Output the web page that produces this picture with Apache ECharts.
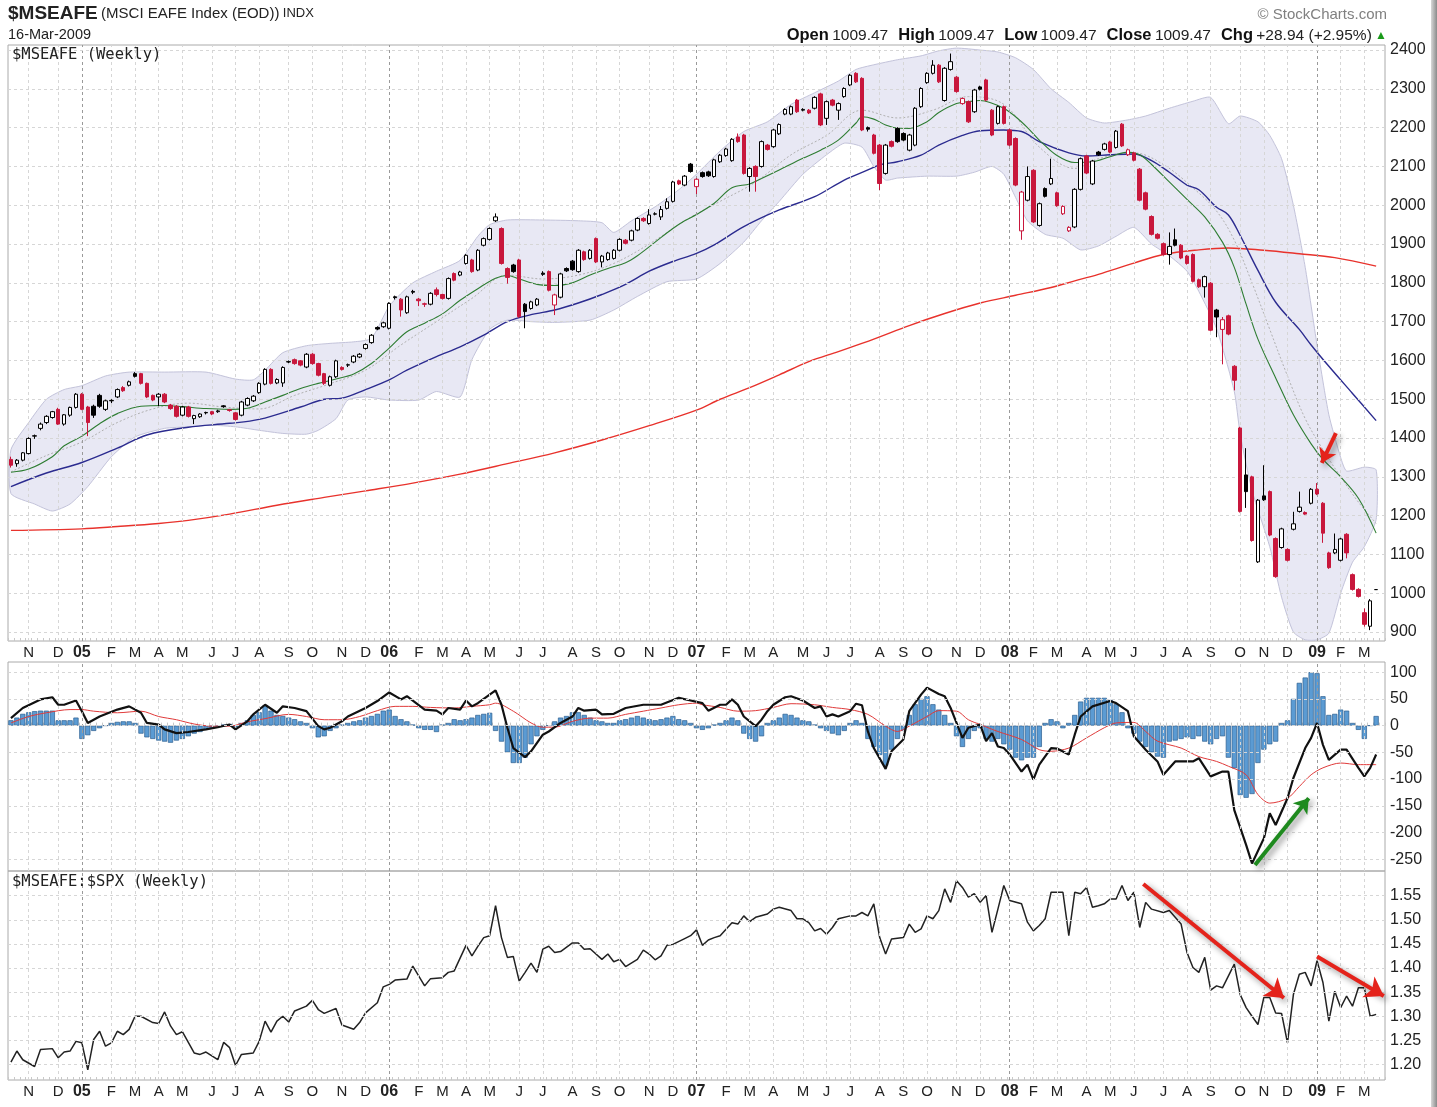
<!DOCTYPE html>
<html>
<head>
<meta charset="utf-8">
<title>$MSEAFE weekly</title>
<script src="https://cdn.jsdelivr.net/npm/echarts@6/dist/echarts.min.js"></script>
<style>
html, body { margin: 0; padding: 0; background: #fff; }
#chart { width: 1437px; height: 1107px; }
</style>
</head>
<body>
<div id="chart"></div>
<script>
// weekly bars, Mondays from 11-Oct-2004 to 16-Mar-2009
var weekCount = 232;

var opens = [1345,1334,1343,1360,1405,1425,1440,1453,1474,1436,1459,1479,1513,1480,1482,1510,1474,1496,1506,1530,
1536,1566,1566,1541,1510,1506,1513,1485,1482,1459,1480,1450,1455,1466,1468,1468,1483,1473,1465,1459,
1485,1496,1517,1539,1577,1542,1542,1596,1602,1599,1583,1616,1592,1566,1536,1558,1582,1588,1596,1609,
1631,1646,1685,1687,1683,1764,1758,1723,1778,1758,1746,1745,1782,1770,1760,1824,1820,1850,1859,1833,
1897,1912,1960,1940,1837,1846,1859,1745,1734,1743,1825,1829,1743,1763,1837,1856,1829,1880,1863,1914,
1854,1860,1863,1884,1910,1910,1936,1966,1953,1977,1970,1992,2010,2063,2052,2106,2048,2084,2086,2074,
2112,2128,2115,2176,2181,2074,2100,2100,2155,2151,2184,2235,2235,2271,2245,2245,2250,2287,2224,2271,
2245,2280,2310,2340,2327,2200,2181,2155,2082,2164,2198,2185,2142,2155,2254,2316,2340,2361,2270,2350,
2330,2262,2267,2241,2305,2323,2245,2211,2254,2194,2172,1934,2013,2090,1948,2043,2055,2032,1978,1934,
1944,2041,2127,2055,2137,2144,2163,2149,2209,2130,2135,2093,2032,1971,1925,1901,1873,1911,1897,1869,
1873,1808,1790,1799,1730,1680,1715,1585,1426,1305,1300,1081,1251,1262,1141,1118,1113,1165,1211,1208,
1232,1268,1232,1104,1104,1085,1152,1048,1010,950,915,1009.47];

var highs = [1352,1346,1364,1402,1409,1440,1459,1470,1478,1462,1481,1516,1516,1483,1486,1514,1499,1500,1528,1534,
1548,1570,1568,1543,1512,1516,1516,1488,1485,1483,1483,1460,1464,1468,1470,1473,1485,1475,1467,1496,
1505,1511,1544,1580,1580,1554,1585,1600,1605,1601,1619,1619,1594,1568,1561,1602,1585,1592,1614,1619,
1644,1668,1688,1700,1750,1767,1761,1767,1782,1761,1749,1776,1788,1772,1814,1827,1831,1874,1862,1887,
1917,1943,1979,1943,1840,1849,1862,1748,1754,1761,1830,1832,1772,1826,1840,1859,1887,1883,1887,1917,
1872,1880,1887,1915,1913,1937,1969,1969,1990,1982,1998,2018,2063,2066,2078,2109,2070,2087,2089,2120,
2132,2148,2173,2185,2184,2098,2103,2167,2158,2197,2211,2250,2257,2274,2250,2248,2281,2290,2270,2274,
2265,2304,2338,2343,2330,2203,2184,2158,2158,2167,2201,2188,2184,2253,2304,2343,2374,2364,2356,2391,
2333,2278,2270,2300,2308,2326,2248,2257,2257,2197,2175,2037,2100,2093,2007,2046,2120,2035,2000,1946,
2044,2123,2130,2117,2140,2161,2166,2194,2212,2146,2138,2096,2035,1974,1928,1904,1930,1940,1900,1872,
1876,1811,1819,1802,1733,1712,1718,1588,1429,1374,1303,1243,1330,1265,1144,1169,1116,1210,1262,1211,
1271,1284,1235,1107,1154,1143,1155,1051,1013,961,985,1009.47];

var lows = [1324,1326,1340,1358,1398,1420,1436,1450,1434,1432,1455,1476,1472,1405,1452,1478,1470,1490,1503,1519,
1533,1556,1538,1503,1495,1482,1490,1473,1453,1456,1453,1436,1452,1461,1459,1465,1478,1468,1445,1456,
1482,1493,1514,1536,1538,1539,1532,1593,1589,1585,1580,1589,1559,1537,1533,1555,1574,1583,1593,1606,
1628,1643,1678,1684,1680,1757,1713,1720,1771,1740,1738,1742,1765,1757,1757,1804,1817,1847,1826,1830,
1894,1909,1957,1847,1798,1826,1710,1683,1731,1740,1818,1778,1717,1760,1828,1831,1826,1857,1860,1851,
1840,1857,1860,1881,1899,1907,1933,1957,1950,1974,1962,1989,2007,2052,2049,2084,2029,2071,2073,2071,
2109,2125,2112,2161,2079,2035,2035,2097,2141,2148,2181,2232,2232,2238,2242,2235,2247,2204,2207,2255,
2220,2277,2307,2315,2191,2190,2131,2039,2079,2149,2161,2165,2139,2152,2251,2313,2337,2315,2267,2347,
2290,2259,2212,2238,2296,2268,2178,2208,2208,2152,2049,1911,2010,1954,1945,2020,2052,1996,1975,1931,
1941,2038,2080,2052,2127,2141,2134,2146,2150,2127,2113,2010,1987,1922,1912,1870,1847,1894,1861,1847,
1801,1787,1762,1675,1660,1590,1665,1523,1208,1220,1133,1078,1238,1147,1040,1115,1082,1162,1208,1202,
1229,1253,1130,1063,1101,1082,1090,1007,989,914,905,1009.47];

var closes = [1330,1343,1362,1399,1406,1436,1456,1468,1436,1460,1479,1513,1474,1440,1459,1482,1496,1497,1525,1522,
1545,1559,1541,1506,1498,1513,1493,1476,1456,1480,1456,1458,1462,1465,1462,1470,1481,1471,1448,1493,
1502,1508,1541,1577,1541,1551,1582,1597,1592,1588,1616,1592,1562,1541,1558,1599,1577,1589,1611,1616,
1641,1665,1681,1697,1747,1762,1730,1764,1776,1754,1745,1773,1770,1760,1811,1807,1828,1871,1829,1884,
1914,1940,1970,1850,1814,1829,1713,1726,1751,1758,1822,1781,1769,1823,1831,1834,1884,1860,1884,1854,
1869,1877,1884,1912,1902,1934,1966,1960,1975,1978,1989,2009,2060,2055,2075,2087,2067,2074,2076,2117,
2129,2145,2170,2164,2082,2095,2074,2164,2144,2194,2208,2247,2254,2241,2247,2238,2278,2207,2267,2258,
2262,2301,2335,2318,2194,2196,2134,2056,2155,2152,2164,2168,2181,2250,2301,2340,2361,2318,2353,2370,
2293,2275,2215,2297,2299,2271,2181,2254,2211,2155,2052,2034,2074,1957,2004,2023,2069,1999,1997,1943,
2041,2120,2083,2114,2130,2158,2137,2191,2153,2143,2116,2013,1990,1925,1915,1873,1894,1897,1864,1850,
1804,1790,1816,1678,1712,1705,1668,1549,1211,1262,1136,1240,1241,1150,1043,1166,1085,1179,1222,1204,
1268,1256,1155,1066,1113,1140,1104,1010,992,920,980.53,1009.47];

// overlays as [week, value]
var greenMA = [[0,1312],[3,1320],[7,1352],[9,1380],[12,1405],[15,1437],[18,1463],[22,1482],[26,1484],[29,1481],[33,1476],[37,1474],[40,1477],[43,1493],[46,1510],[49,1528],[52,1541],[55,1552],[58,1565],[61,1592],[64,1632],[67,1674],[70,1696],[73,1720],[76,1755],[79,1785],[82,1812],[84,1819],[86,1810],[89,1796],[92,1793],[95,1800],[98,1820],[101,1837],[104,1852],[106,1870],[109,1905],[112,1940],[114,1960],[116,1976],[119,2005],[122,2045],[125,2055],[127,2069],[130,2091],[134,2121],[137,2142],[140,2168],[143,2212],[144,2228],[146,2222],[148,2207],[150,2199],[152,2198],[155,2215],[157,2239],[160,2262],[162,2267],[164,2270],[166,2263],[168,2250],[170,2228],[172,2200],[174,2168],[177,2128],[180,2110],[183,2112],[186,2125],[189,2137],[191,2130],[193,2105],[196,2060],[199,2015],[202,1970],[205,1905],[207,1840],[209,1745],[211,1655],[214,1555],[217,1460],[220,1385],[222,1345],[225,1300],[228,1245],[231,1155]];

var blueMA = [[0,1275],[6,1310],[12,1337],[18,1374],[23,1408],[30,1428],[37,1438],[42,1448],[49,1480],[53,1500],[56,1503],[60,1525],[64,1550],[67,1575],[72,1610],[76,1635],[80,1665],[84,1700],[88,1718],[92,1730],[96,1748],[100,1770],[104,1796],[108,1830],[112,1855],[116,1876],[119,1898],[124,1945],[130,1988],[136,2022],[141,2065],[145,2091],[147,2104],[150,2112],[154,2129],[157,2155],[161,2180],[164,2192],[168,2194],[171,2190],[174,2164],[179,2135],[182,2127],[186,2130],[190,2132],[193,2115],[196,2085],[199,2052],[201,2040],[204,1995],[206,1975],[208,1922],[211,1832],[214,1750],[218,1680],[220,1640],[223,1585],[227,1515],[231,1445]];

var redMA = [[0,1162],[12,1166],[18,1172],[25,1180],[30,1188],[37,1204],[45,1227],[53,1247],[60,1264],[68,1284],[76,1307],[84,1334],[92,1362],[100,1395],[108,1432],[116,1472],[120,1500],[125,1530],[130,1563],[135,1597],[140,1623],[146,1655],[152,1690],[158,1721],[164,1748],[170,1768],[176,1788],[180,1805],[184,1822],[190,1851],[195,1873],[201,1885],[206,1890],[212,1884],[218,1875],[224,1865],[231,1843]];

var bandUpper = [[0,1370],[3,1440],[6,1500],[9,1525],[12,1535],[16,1560],[20,1570],[26,1570],[33,1570],[38,1552],[41,1550],[43,1575],[46,1620],[50,1638],[54,1644],[58,1648],[61,1657],[64,1740],[68,1800],[72,1830],[76,1858],[79,1920],[81,1950],[84,1962],[90,1962],[96,1960],[100,1955],[102,1930],[105,1960],[109,1996],[113,2040],[116,2080],[120,2140],[124,2190],[128,2215],[132,2260],[136,2290],[140,2320],[143,2350],[146,2362],[150,2375],[154,2385],[157,2398],[160,2405],[164,2400],[167,2395],[170,2380],[173,2350],[176,2300],[179,2265],[182,2225],[185,2212],[189,2220],[192,2230],[196,2250],[200,2268],[203,2278],[206,2210],[208,2230],[211,2215],[213,2180],[215,2120],[217,2000],[219,1840],[221,1640],[223,1460],[225,1350],[226,1315],[229,1325],[231,1318]];

var bandLower = [[0,1257],[4,1230],[7,1212],[10,1230],[13,1275],[17,1352],[21,1403],[26,1425],[30,1429],[34,1433],[38,1429],[42,1420],[46,1412],[50,1410],[52,1420],[55,1450],[57,1498],[60,1506],[64,1498],[69,1498],[72,1520],[76,1506],[78,1602],[81,1680],[84,1704],[88,1700],[92,1698],[98,1704],[102,1730],[106,1765],[111,1803],[116,1810],[120,1850],[124,1905],[127,1960],[130,2010],[134,2080],[138,2130],[141,2160],[144,2150],[146,2100],[148,2065],[150,2070],[155,2075],[160,2075],[163,2085],[166,2100],[168,2080],[170,2020],[172,1960],[175,1925],[178,1915],[181,1885],[184,1895],[187,1920],[190,1943],[193,1900],[196,1870],[199,1830],[201,1778],[204,1682],[207,1520],[208,1410],[210,1265],[213,1120],[215,990],[217,900],[219,880],[221,880],[223,897],[225,1000],[227,1080],[229,1120],[231,1190]];

var bandMid = [[0,1313],[6,1355],[12,1390],[18,1440],[24,1475],[30,1490],[36,1480],[42,1475],[48,1510],[54,1540],[60,1575],[66,1640],[72,1700],[78,1760],[84,1820],[90,1810],[96,1820],[102,1850],[108,1900],[114,1960],[120,2010],[126,2060],[132,2130],[138,2180],[144,2245],[150,2225],[156,2245],[162,2280],[168,2260],[174,2150],[180,2095],[184,2120],[190,2135],[195,2105],[200,2045],[204,1985],[207,1910],[210,1800],[213,1680],[216,1560],[219,1450],[222,1370],[225,1300],[228,1235],[231,1180]];

var macdLine = [[0,14],[2,33],[5,49],[7,53],[8,39],[9,39],[11,47],[12,27],[13,5],[15,17],[18,30],[20,36],[22,24],[23,5],[25,2],[26,-7],[28,-14],[30,-12],[33,-7],[35,-3],[37,2],[38,-7],[40,8],[41,21],[43,39],[45,24],[46,36],[48,33],[50,27],[52,-1],[53,-7],[54,-4],[56,8],[57,17],[60,33],[62,46],[64,62],[66,49],[67,55],[70,30],[72,28],[73,21],[74,33],[76,30],[77,47],[78,36],[79,42],[81,58],[82,66],[83,39],[84,-4],[85,-42],[87,-59],[88,-48],[90,-17],[91,-11],[93,5],[95,17],[96,33],[97,28],[99,30],[100,21],[102,22],[104,33],[107,39],[110,39],[113,52],[115,47],[117,42],[118,28],[120,39],[121,39],[122,49],[123,39],[124,17],[126,-1],[127,11],[128,27],[129,39],[131,53],[132,55],[134,47],[136,33],[137,36],[138,17],[139,21],[140,17],[142,27],[143,41],[144,38],[145,-11],[146,-42],[148,-81],[149,-48],[151,-26],[152,27],[154,58],[155,71],[157,59],[158,55],[159,33],[161,-23],[162,-4],[164,2],[165,-29],[166,-14],[167,-39],[168,-42],[169,-54],[171,-86],[172,-73],[173,-101],[174,-73],[176,-42],[177,-43],[179,-54],[180,-17],[181,17],[183,36],[186,46],[187,42],[189,27],[190,-20],[192,-45],[194,-67],[195,-92],[197,-67],[198,-67],[200,-67],[201,-61],[203,-95],[205,-86],[206,-86],[207,-158],[209,-223],[210,-258],[212,-211],[213,-164],[214,-186],[216,-136],[217,-98],[219,-42],[220,-23],[221,5],[222,-36],[223,-64],[225,-45],[226,-45],[228,-79],[229,-95],[230,-79],[231,-54]];

var macdSignal = [[0,5],[3,17],[6,24],[10,30],[12,30],[14,27],[18,24],[22,27],[25,17],[28,11],[31,3],[34,-1],[37,-1],[40,7],[43,13],[47,21],[50,17],[53,11],[56,11],[59,17],[62,28],[65,36],[68,36],[71,34],[75,33],[78,36],[81,39],[82,42],[85,27],[88,5],[90,-3],[92,-3],[95,8],[98,14],[101,14],[104,21],[107,27],[110,33],[113,39],[116,42],[117,39],[120,34],[123,27],[126,28],[129,34],[132,41],[136,39],[139,34],[142,30],[145,21],[148,-1],[150,-11],[152,-1],[155,17],[157,28],[160,27],[162,11],[164,2],[167,-11],[171,-26],[174,-45],[176,-48],[179,-42],[182,-23],[185,-4],[187,5],[190,6],[192,-11],[194,-29],[198,-42],[201,-58],[204,-67],[206,-76],[209,-92],[211,-129],[213,-145],[216,-136],[218,-114],[220,-92],[222,-79],[225,-70],[228,-73],[231,-73]];

var macdHist = [10,15,22,25,27,28,28,28,10,10,10,15,-25,-18,-10,-5,0,5,7,8,
8,5,-15,-22,-25,-28,-30,-32,-28,-25,-20,-15,-12,-8,-5,-2,2,3,-3,5,
10,20,25,38,28,20,18,15,12,8,5,-5,-22,-20,-10,-5,2,5,8,10,
15,18,22,28,30,18,12,8,2,-5,-8,-8,-12,2,5,12,10,12,15,20,
22,24,-10,-30,-50,-70,-70,-60,-35,-20,-8,0,8,15,18,25,25,20,15,10,
8,5,5,10,12,15,18,15,12,10,12,15,18,12,10,5,-5,-8,-5,2,
5,10,15,10,-15,-25,-30,-20,5,10,15,22,20,15,10,8,2,-5,-10,-15,
-18,-10,5,10,5,-25,-40,-55,-75,-45,-25,-10,20,40,50,55,40,30,20,5,
-20,-40,-25,-10,-5,-25,-30,-25,-35,-45,-60,-65,-60,-60,-40,5,12,8,-5,5,
20,45,52,52,52,52,48,40,25,-5,-15,-30,-40,-50,-58,-60,-30,-28,-25,-22,
-25,-20,-30,-35,-25,-20,-60,-80,-130,-135,-128,-70,-45,-35,-30,5,10,50,80,90,
100,98,55,20,22,30,28,5,-8,-25,0,18];

var ratioLine = [[0,1.205],[1,1.228],[2,1.210],[4,1.196],[5,1.231],[7,1.233],[8,1.214],[9,1.226],[10,1.228],[11,1.248],[12,1.245],[13,1.189],[14,1.252],[15,1.269],[16,1.238],[17,1.245],[18,1.269],[19,1.262],[20,1.273],[21,1.300],[22,1.300],[24,1.287],[25,1.285],[26,1.309],[27,1.280],[28,1.262],[29,1.268],[31,1.224],[32,1.221],[33,1.226],[35,1.210],[36,1.246],[37,1.235],[38,1.198],[39,1.221],[41,1.224],[42,1.248],[43,1.290],[44,1.267],[45,1.290],[46,1.300],[47,1.288],[48,1.311],[50,1.321],[51,1.333],[52,1.314],[53,1.306],[55,1.316],[56,1.282],[58,1.273],[59,1.287],[60,1.307],[62,1.328],[63,1.361],[64,1.366],[65,1.375],[67,1.377],[68,1.404],[70,1.363],[71,1.378],[73,1.380],[74,1.391],[75,1.394],[77,1.447],[78,1.425],[79,1.445],[80,1.463],[81,1.467],[82,1.529],[83,1.463],[84,1.422],[85,1.424],[86,1.373],[87,1.391],[88,1.410],[89,1.391],[90,1.439],[91,1.445],[92,1.432],[93,1.434],[95,1.452],[96,1.452],[97,1.439],[98,1.440],[100,1.418],[101,1.429],[102,1.413],[103,1.418],[104,1.403],[106,1.418],[107,1.437],[108,1.429],[109,1.417],[110,1.425],[111,1.447],[112,1.449],[114,1.461],[115,1.467],[116,1.479],[117,1.447],[118,1.458],[119,1.463],[120,1.467],[122,1.494],[123,1.491],[124,1.508],[125,1.496],[126,1.505],[128,1.512],[129,1.522],[130,1.526],[132,1.519],[133,1.502],[134,1.502],[135,1.494],[136,1.477],[137,1.482],[138,1.470],[139,1.484],[140,1.502],[142,1.508],[143,1.508],[144,1.515],[145,1.508],[146,1.533],[147,1.463],[148,1.429],[149,1.460],[151,1.463],[152,1.491],[153,1.474],[154,1.481],[155,1.508],[156,1.502],[157,1.519],[158,1.564],[159,1.536],[160,1.581],[161,1.567],[162,1.547],[163,1.554],[164,1.536],[165,1.550],[166,1.474],[167,1.522],[168,1.571],[169,1.540],[171,1.533],[172,1.495],[173,1.477],[174,1.488],[175,1.502],[176,1.557],[177,1.557],[178,1.557],[179,1.467],[180,1.557],[181,1.554],[182,1.567],[183,1.526],[184,1.529],[185,1.533],[186,1.543],[187,1.543],[188,1.571],[189,1.540],[190,1.557],[191,1.484],[192,1.536],[193,1.522],[195,1.515],[196,1.519],[198,1.491],[199,1.432],[200,1.401],[201,1.391],[202,1.422],[203,1.354],[204,1.363],[205,1.359],[207,1.408],[208,1.345],[209,1.318],[210,1.300],[211,1.283],[212,1.339],[213,1.339],[214,1.307],[215,1.306],[216,1.245],[217,1.345],[218,1.387],[219,1.391],[220,1.363],[221,1.415],[222,1.370],[223,1.290],[224,1.352],[225,1.318],[226,1.342],[227,1.321],[228,1.359],[229,1.359],[230,1.300],[231,1.304]];

var priceTicks = [900,1000,1100,1200,1300,1400,1500,1600,1700,1800,1900,2000,2100,2200,2300,2400];
var macdTicks = [-250,-200,-150,-100,-50,0,50,100];
var ratioTicks = [1.20,1.25,1.30,1.35,1.40,1.45,1.50,1.55];

// hand drawn arrows, [week, value] tail -> head
var arrowPrice = [[224.2,1413],[221.8,1336]];
var arrowMacd = [[210.5,-261],[219.6,-136]];
var arrowRatioA = [[191.6,1.574],[215.4,1.338]];
var arrowRatioB = [[221,1.424],[232.3,1.342]];

var RED = '#c8173c';
var FONT = '"Liberation Sans", Arial, sans-serif';

var weeks = [];
var t0 = Date.UTC(2004, 9, 11);
for (var i = 0; i <= weekCount; i++) {
  weeks.push(new Date(t0 + i * 7 * 86400000).toISOString().slice(0, 10));
}
var monthIdx = [];
weeks.forEach(function (w, i) {
  if (i > 0 && w.slice(5, 7) !== weeks[i - 1].slice(5, 7)) monthIdx.push(i);
});
function isMonthStart(i) { return monthIdx.indexOf(i) >= 0; }

var candles = opens.map(function (o, i) {
  var c = closes[i];
  var rising = i === 0 ? c >= o : c >= closes[i - 1];
  var ink = rising ? '#000' : RED;
  var fill = c > o ? '#fff' : ink;
  return {
    value: [o, c, lows[i], highs[i]],
    itemStyle: { color: fill, color0: fill, borderColor: ink, borderColor0: ink, borderWidth: 1 }
  };
});

function gridLines(ticks) {
  var d = [];
  monthIdx.forEach(function (i) {
    var year = weeks[i].slice(5, 7) === '01';
    d.push({ xAxis: i, lineStyle: { color: year ? '#9a9a9a' : '#d6d6d6', type: [3, 3], width: 1 } });
  });
  ticks.forEach(function (v) { d.push({ yAxis: v }); });
  return {
    silent: true, symbol: ['none', 'none'], label: { show: false }, animation: false,
    lineStyle: { type: [3, 3], color: '#d6d6d6', width: 1 }, emphasis: { disabled: true }, data: d
  };
}

function catAxis(grid, showLabels) {
  return {
    type: 'category', gridIndex: grid, data: weeks, boundaryGap: true,
    axisLine: { show: false },
    axisTick: { show: true, interval: 0, inside: true, length: 3, lineStyle: { color: '#c8c8c8' } },
    splitLine: { show: false },
    axisLabel: {
      show: showLabels, margin: 4, color: '#222', fontFamily: FONT, fontSize: 15,
      interval: function (idx) { return isMonthStart(idx); },
      formatter: function (val) {
        var m = +val.slice(5, 7);
        if (m === 1) return '{y|' + val.slice(2, 4) + '}';
        return 'JFMAMJJASOND'.charAt(m - 1);
      },
      rich: { y: { fontWeight: 'bold', fontSize: 16, fontFamily: FONT, color: '#222' } }
    }
  };
}
function valAxisX(grid) {
  return { type: 'value', gridIndex: grid, min: -0.5, max: weekCount + 0.5, show: false };
}
function valAxisY(grid, min, max, ticks, fmt) {
  return {
    type: 'value', gridIndex: grid, position: 'right', min: min, max: max, scale: true,
    axisLine: { show: false }, axisTick: { show: false }, splitLine: { show: false },
    axisLabel: { customValues: ticks, margin: 5, color: '#222', fontFamily: FONT, fontSize: 16,
      formatter: fmt || function (v) { return String(v); } }
  };
}
function maLine(data, color, width, extra) {
  var s = {
    type: 'line', xAxisIndex: 3, yAxisIndex: 0, data: data, showSymbol: false, smooth: 0.35,
    lineStyle: { color: color, width: width }, z: 4, silent: true
  };
  if (extra) for (var k in extra) s.lineStyle[k] = extra[k];
  return s;
}
function arrow(coords, xi, yi, color, size) {
  return {
    type: 'lines', coordinateSystem: 'cartesian2d', xAxisIndex: xi, yAxisIndex: yi, clip: false,
    symbol: ['none', 'arrow'], symbolSize: size, silent: true, z: 20,
    lineStyle: { color: color, width: 4, opacity: 1, shadowBlur: 6, shadowColor: 'rgba(0,0,0,0.45)', shadowOffsetX: 3, shadowOffsetY: 3 },
    data: [{ coords: coords }]
  };
}

var chart = echarts.init(document.getElementById('chart'), null, { renderer: 'canvas' });
chart.setOption({
  animation: false,
  backgroundColor: '#fff',
  grid: [
    { left: 8, right: 52, top: 45, height: 596, show: true, borderColor: '#aaa', borderWidth: 1 },
    { left: 8, right: 52, top: 662, height: 209, show: true, borderColor: '#aaa', borderWidth: 1 },
    { left: 8, right: 52, top: 871, height: 209, show: true, borderColor: '#aaa', borderWidth: 1 }
  ],
  xAxis: [catAxis(0, true), catAxis(1, false), catAxis(2, true), valAxisX(0), valAxisX(1), valAxisX(2)],
  yAxis: [
    valAxisY(0, 877, 2413, priceTicks),
    valAxisY(1, -272, 119, macdTicks),
    valAxisY(2, 1.168, 1.601, ratioTicks, function (v) { return v.toFixed(2); })
  ],
  graphic: [
    { type: 'text', left: 8, top: 4, z: 100, style: {
      text: '{a|$MSEAFE} {b|(MSCI EAFE Index (EOD))} {c|INDX}',
      rich: {
        a: { fontFamily: FONT, fontWeight: 'bold', fontSize: 19, fill: '#222' },
        b: { fontFamily: FONT, fontSize: 15, fill: '#222' },
        c: { fontFamily: FONT, fontSize: 13, fill: '#222' }
      } } },
    { type: 'text', left: 8, top: 27, z: 100, style: { text: '16-Mar-2009', font: '14.5px ' + FONT, fill: '#222' } },
    { type: 'text', right: 50, top: 7, z: 100, style: { text: '\u00a9 StockCharts.com', font: '15px ' + FONT, fill: '#808080' } },
    { type: 'text', right: 50, top: 27, z: 100, style: {
      text: '{k|Open} {v|1009.47}   {k|High} {v|1009.47}   {k|Low} {v|1009.47}   {k|Close} {v|1009.47}   {k|Chg} {v|+28.94 (+2.95%)} {g|\u25b2}',
      rich: {
        k: { fontFamily: FONT, fontWeight: 'bold', fontSize: 16.5, fill: '#111' },
        v: { fontFamily: FONT, fontSize: 15.5, fill: '#222' },
        g: { fontFamily: FONT, fontSize: 12, fill: '#1a9a1a' }
      } } },
    { type: 'text', left: 12, top: 47, z: 100, style: { text: '$MSEAFE (Weekly)', font: '15.5px "DejaVu Sans Mono", monospace', fill: '#222' } },
    { type: 'text', left: 12, top: 874, z: 100, style: { text: '$MSEAFE:$SPX (Weekly)', font: '15.5px "DejaVu Sans Mono", monospace', fill: '#222' } },
    { type: 'rect', left: 1431, top: 0, z: 100, shape: { width: 6, height: 1107 },
      style: { fill: new echarts.graphic.LinearGradient(0, 0, 1, 0, [{ offset: 0, color: '#d8d8d8' }, { offset: 1, color: '#8a8a8a' }]) } }
  ],
  series: [
    { type: 'custom', xAxisIndex: 3, yAxisIndex: 0, clip: true, silent: true, z: 1, data: [[0, 1500]],
      renderItem: function (params, api) {
        var pts = [];
        bandUpper.forEach(function (p) { pts.push(api.coord(p)); });
        for (var k = bandLower.length - 1; k >= 0; k--) pts.push(api.coord(bandLower[k]));
        return { type: 'polygon', shape: { points: pts, smooth: 0.2 },
          style: { fill: '#e8e8f4', stroke: '#c3c3da', lineWidth: 1 } };
      } },
    { type: 'line', xAxisIndex: 3, yAxisIndex: 0, data: [], z: 2, markLine: gridLines(priceTicks) },
    maLine(bandMid, '#b0b0b0', 1, { type: [2, 2] }),
    maLine(redMA, '#e8322c', 1.4),
    maLine(blueMA, '#2b2b8f', 1.4),
    maLine(greenMA, '#2e7d32', 1.1),
    { type: 'candlestick', xAxisIndex: 0, yAxisIndex: 0, barWidth: 4, z: 5, silent: true, data: candles },
    arrow(arrowPrice, 3, 0, '#e4231b', 14),

    { type: 'line', xAxisIndex: 4, yAxisIndex: 1, data: [], z: 1, markLine: gridLines(macdTicks) },
    { type: 'bar', xAxisIndex: 1, yAxisIndex: 1, data: macdHist, barCategoryGap: '12%', silent: true, z: 2,
      itemStyle: { color: '#5b9bd3', borderColor: '#2d5f8f', borderWidth: 0.7 } },
    { type: 'line', xAxisIndex: 4, yAxisIndex: 1, data: macdSignal, showSymbol: false, smooth: 0.3, silent: true, z: 3,
      lineStyle: { color: '#e03a3a', width: 1 } },
    { type: 'line', xAxisIndex: 4, yAxisIndex: 1, data: macdLine, showSymbol: false, silent: true, z: 4,
      lineStyle: { color: '#111', width: 2.2 } },
    arrow(arrowMacd, 4, 1, '#1e8a1e', 14),

    { type: 'line', xAxisIndex: 5, yAxisIndex: 2, data: [], z: 1, markLine: gridLines(ratioTicks) },
    { type: 'line', xAxisIndex: 5, yAxisIndex: 2, data: ratioLine, showSymbol: false, silent: true, z: 3,
      lineStyle: { color: '#222', width: 1.5 } },
    arrow(arrowRatioA, 5, 2, '#e4231b', 18),
    arrow(arrowRatioB, 5, 2, '#e4231b', 18)
  ]
});
</script>
</body>
</html>
